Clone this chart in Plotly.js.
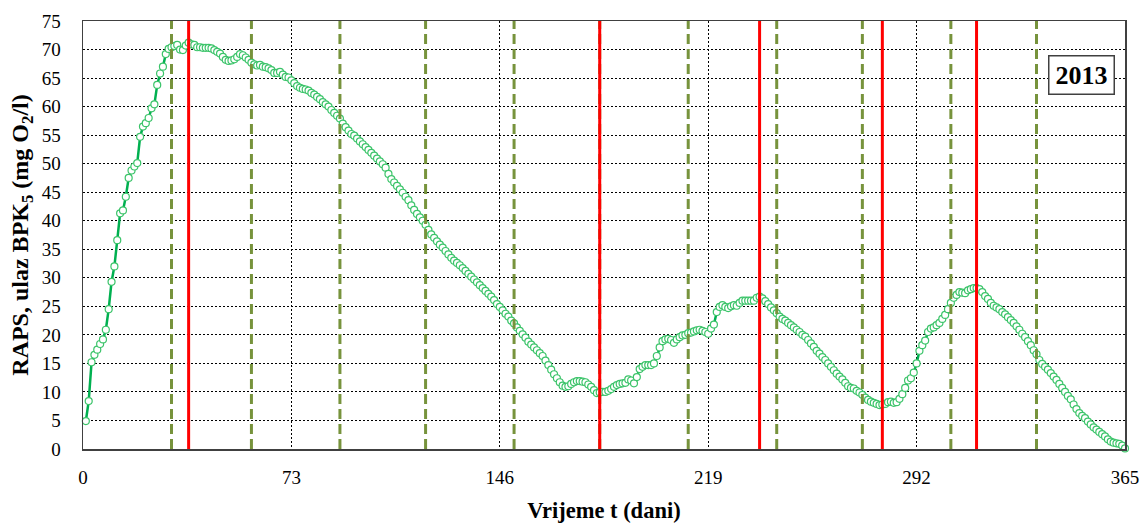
<!DOCTYPE html>
<html>
<head>
<meta charset="utf-8">
<script src="https://cdn.plot.ly/plotly-3.0.1.min.js"></script>
<style>html,body{margin:0;padding:0;background:#fff;}#chart{width:1145px;height:524px;}</style>
</head>
<body>
<div id="chart"></div>
<script>
// RAPS values (mg O2/l), one per day starting at day 1
const raps = [
4.9,8.4,15.2,16.5,17.4,18.4,19.2,20.9,24.5,29.3,
32.0,36.6,41.3,41.8,44.2,47.5,48.8,49.5,50.1,54.7,
56.5,57.1,58.0,59.7,60.4,63.8,65.8,67.0,69.2,70.1,
70.4,70.6,70.8,70.0,69.9,70.7,71.2,70.9,70.8,70.4,
70.4,70.3,70.3,70.3,70.2,69.9,69.6,69.3,68.7,68.2,
68.0,68.1,68.3,68.7,69.2,69.0,68.6,68.2,67.7,67.4,
67.2,67.3,67.0,66.9,66.7,66.4,65.9,65.9,66.1,65.6,
65.2,65.1,64.6,64.1,63.6,63.3,63.1,63.0,62.8,62.4,
62.1,61.7,61.3,60.8,60.4,60.0,59.4,58.9,58.4,57.9,
57.0,56.4,55.8,55.2,54.9,54.4,53.9,53.4,52.9,52.4,
51.9,51.4,50.9,50.4,49.9,49.3,48.2,47.3,46.7,46.1,
45.5,44.9,44.2,43.6,42.7,41.9,41.2,40.6,40.0,39.3,
38.4,37.6,37.0,36.4,35.8,35.3,34.7,34.1,33.5,33.0,
32.6,32.2,31.7,31.2,30.7,30.2,29.7,29.2,28.7,28.2,
27.7,27.2,26.7,26.1,25.4,24.9,24.3,23.7,23.2,22.5,
22.0,21.3,20.7,20.1,19.5,18.8,18.3,17.8,17.3,16.8,
16.3,15.5,14.7,13.9,13.1,12.4,11.7,11.1,10.9,11.0,
11.4,11.7,11.9,11.9,11.8,11.7,11.3,10.9,10.3,9.8,
9.9,10.0,10.0,10.2,10.5,10.9,11.2,11.4,11.5,11.6,
12.2,12.0,11.5,12.6,14.0,14.4,14.7,14.7,14.7,15.0,
16.3,17.8,18.9,19.2,19.3,19.1,18.6,19.2,19.6,19.9,
20.0,20.3,20.4,20.6,20.8,20.9,20.7,20.5,20.2,21.1,
21.8,24.0,24.9,25.2,24.9,24.7,25.0,25.2,25.1,25.6,
26.0,26.0,26.0,26.0,26.0,26.5,26.7,26.4,25.9,25.4,
24.8,24.3,23.8,23.2,22.8,22.5,22.1,21.7,21.3,20.9,
20.5,20.0,19.7,19.1,18.5,17.9,17.2,16.7,16.1,15.6,
15.0,14.4,13.8,13.2,12.7,12.2,11.6,11.0,10.7,10.6,
10.2,9.9,9.5,9.0,8.6,8.3,8.1,7.9,7.7,7.8,
7.9,8.2,8.3,8.1,8.2,8.8,9.6,10.7,12.0,12.4,
13.4,15.0,17.2,18.2,19.0,20.5,21.1,21.3,21.7,22.1,
22.8,23.5,24.5,25.6,26.5,27.0,27.5,27.4,27.3,27.8,
28.0,28.2,28.2,28.0,27.5,26.8,26.3,25.6,25.1,24.8,
24.5,24.0,23.6,23.1,22.6,22.1,21.5,20.9,20.2,19.6,
18.9,18.2,17.3,16.6,15.6,14.9,14.4,13.9,13.3,12.7,
12.1,11.4,10.7,10.0,9.3,8.7,7.8,7.0,6.3,5.8,
5.4,4.8,4.3,3.8,3.4,3.0,2.6,2.2,1.7,1.3,
1.1,1.0,0.9,0.6,0.1
];
const days = raps.map((v, i) => i + 1);

// month boundaries (green dashed) and marked days (red)
const monthEnds = [31, 59, 90, 120, 151, 181, 212, 243, 273, 304, 334];
const redDays = [37, 181, 237, 280, 313];
const xTicks = [0, 73, 146, 219, 292, 365];
const yearLabel = '2013';

const shapes = [];
monthEnds.forEach(d => shapes.push({
  type: 'line', xref: 'x', yref: 'y', x0: d, x1: d, y0: 0, y1: 75,
  line: {color: '#77933C', width: 3, dash: '10px,5px'}, layer: 'above'
}));
redDays.forEach(d => shapes.push({
  type: 'line', xref: 'x', yref: 'y', x0: d, x1: d, y0: 0, y1: 75,
  line: {color: '#FF0000', width: 3}, layer: 'above'
}));

const trace = {
  x: days, y: raps, type: 'scatter', mode: 'lines+markers',
  line: {color: '#00B050', width: 2.5},
  marker: {symbol: 'circle', size: 7, color: '#FFFFFF', line: {color: '#3CC46A', width: 1.2}},
  cliponaxis: false, showlegend: false
};

const fam = 'Liberation Serif, Times New Roman, serif';

const layout = {
  width: 1145, height: 524,
  margin: {l: 83, r: 20, t: 21, b: 75},
  paper_bgcolor: '#fff', plot_bgcolor: '#fff',
  font: {family: fam, color: '#000'},
  showlegend: false,
  xaxis: {
    range: [0, 365], tickmode: 'array', tickvals: xTicks,
    showgrid: true, gridcolor: '#000', gridwidth: 1, griddash: '2px,2px',
    zeroline: false, showline: true, linecolor: '#404040', linewidth: 1.5, mirror: true,
    ticks: '', ticklabelstandoff: 11,
    tickfont: {family: fam, size: 19, color: '#000'},
    title: {text: '<b>Vrijeme t (dani)</b>', font: {family: fam, size: 22.5, color: '#000'}, standoff: 15}
  },
  yaxis: {
    range: [0, 75], dtick: 5, tick0: 0,
    showgrid: true, gridcolor: '#000', gridwidth: 1, griddash: '2px,2px',
    zeroline: false, showline: true, linecolor: '#404040', linewidth: 1.5, mirror: true,
    ticks: '', ticklabelstandoff: 17,
    tickfont: {family: fam, size: 19, color: '#000'},
    title: {text: '<b>RAPS, ulaz BPK<sub>5</sub> (mg O<sub>2</sub>/l)</b>', font: {family: fam, size: 24, color: '#000'}, standoff: 6}
  },
  shapes: shapes,
  annotations: [{
    xref: 'paper', yref: 'paper', x: 0.9584, y: 0.8727, xanchor: 'center', yanchor: 'middle',
    text: '<b>' + yearLabel + '</b>', showarrow: false,
    width: 60, height: 33, align: 'center', valign: 'middle',
    font: {family: fam, size: 26, color: '#000'},
    bgcolor: '#fff', bordercolor: '#404040', borderwidth: 1.5, borderpad: 2
  }]
};

Plotly.newPlot('chart', [trace], layout, {displayModeBar: false, staticPlot: true});
</script>
</body>
</html>
